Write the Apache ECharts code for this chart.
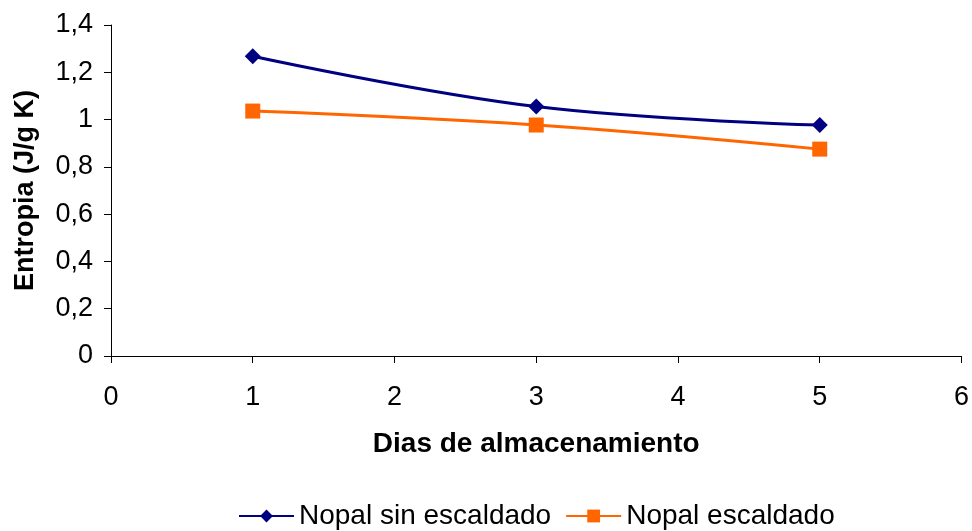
<!DOCTYPE html>
<html>
<head>
<meta charset="utf-8">
<script src="https://cdn.jsdelivr.net/npm/echarts@6/dist/echarts.min.js"></script>
<style>
  html, body { margin: 0; padding: 0; background: #fff; }
  #chart { width: 972px; height: 531px; }
</style>
</head>
<body>
<div id="chart"></div>
<script>
// Storage days sampled
const days = [1, 3, 5];
// Entropy (J/g K) per treatment
const nopalSinEscaldado = [1.268, 1.055, 0.977];
const nopalEscaldado = [1.036, 0.977, 0.875];
const seriesNames = ['Nopal sin escaldado', 'Nopal escaldado'];
const xTitle = 'Dias de almacenamiento';
const yTitle = 'Entropia (J/g K)';

const FONT = '"Liberation Sans", Arial, sans-serif';
const pairs = (xs, ys) => xs.map((x, i) => [x, ys[i]]);
const fmtComma = v => String(Math.round(v * 10) / 10).replace('.', ',');

const chart = echarts.init(document.getElementById('chart'), null, { renderer: 'canvas' });
chart.setOption({
  backgroundColor: '#ffffff',
  animation: false,
  textStyle: { fontFamily: FONT, color: '#000' },
  grid: { left: 111, right: 9, top: 25, bottom: 175, containLabel: false },
  xAxis: {
    type: 'value', min: 0, max: 6, interval: 1,
    name: xTitle, nameLocation: 'middle', nameGap: 74,
    nameTextStyle: { fontFamily: FONT, fontSize: 28, fontWeight: 'bold', color: '#000' },
    axisLine: { show: true, onZero: false, lineStyle: { color: '#000', width: 1 } },
    axisTick: { show: true, length: 7, inside: false, lineStyle: { color: '#000' } },
    axisLabel: { fontFamily: FONT, fontSize: 27, color: '#000', margin: 28 },
    splitLine: { show: false }
  },
  yAxis: {
    type: 'value', min: 0, max: 1.4, interval: 0.2,
    name: yTitle, nameLocation: 'middle', nameGap: 72, nameRotate: 90,
    nameTextStyle: { fontFamily: FONT, fontSize: 27, fontWeight: 'bold', color: '#000' },
    axisLine: { show: true, lineStyle: { color: '#000', width: 1 } },
    axisTick: { show: true, length: 7, inside: false, lineStyle: { color: '#000' } },
    axisLabel: { fontFamily: FONT, fontSize: 27, color: '#000', margin: 18, formatter: fmtComma },
    splitLine: { show: false }
  },
  legend: {
    top: 502, left: 238, padding: 0,
    itemWidth: 55, itemHeight: 16, itemGap: 14,
    textStyle: { fontFamily: FONT, fontSize: 28, color: '#000' },
    data: seriesNames
  },
  series: [
    {
      name: seriesNames[0], type: 'line', smooth: 0.4,
      data: pairs(days, nopalSinEscaldado),
      symbol: 'diamond', symbolSize: 16,
      lineStyle: { color: '#000080', width: 3 },
      itemStyle: { color: '#000080' }
    },
    {
      name: seriesNames[1], type: 'line', smooth: 0.4,
      data: pairs(days, nopalEscaldado),
      symbol: 'rect', symbolSize: 15,
      lineStyle: { color: '#FF6600', width: 3 },
      itemStyle: { color: '#FF6600' }
    }
  ]
});
</script>
</body>
</html>
